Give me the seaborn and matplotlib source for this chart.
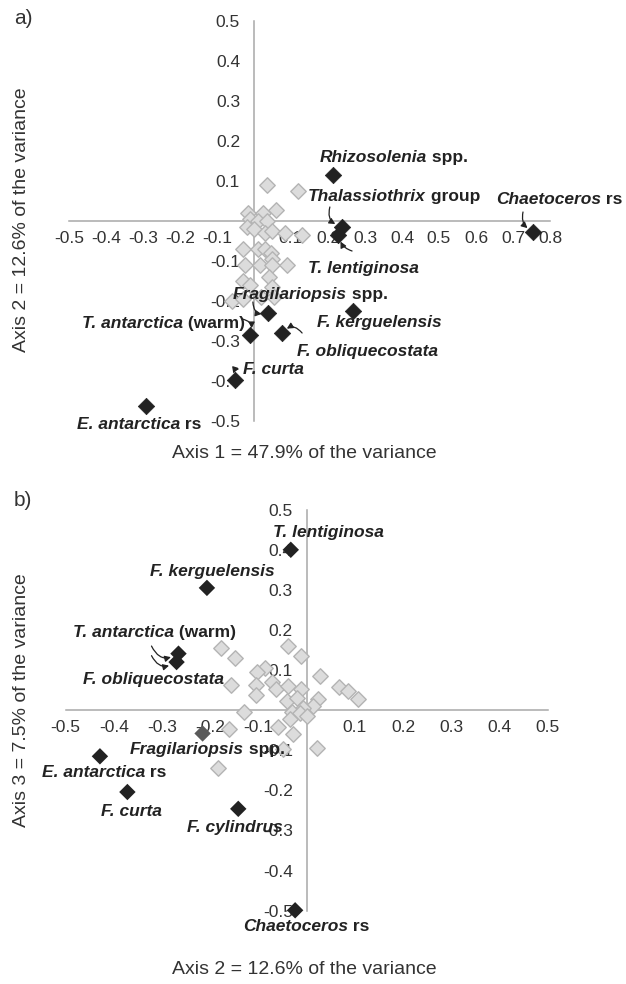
import matplotlib
matplotlib.use("Agg")
import matplotlib.pyplot as plt
import seaborn as sns
import pandas as pd
from matplotlib import font_manager as fm

sns.set_style("white")
avail = {f.name for f in fm.fontManager.ttflist}
FONT = "Liberation Sans Narrow" if "Liberation Sans Narrow" in avail else "Liberation Sans"
plt.rcParams["font.family"] = [FONT, "DejaVu Sans"]
plt.rcParams["axes.unicode_minus"] = False

# ---------------- data: panel a (Axis 1 vs Axis 2) ----------------
a_names = ["Rhizosolenia spp.", "Thalassiothrix group", "T. lentiginosa", "Chaetoceros rs",
           "Fragilariopsis spp.", "F. kerguelensis", "T. antarctica (warm)",
           "F. obliquecostata", "F. curta", "E. antarctica rs"]
a_x = [0.214, 0.237, 0.228, 0.755, 0.039, 0.268, -0.011, 0.075, -0.051, -0.292]
a_y = [0.115, -0.014, -0.035, -0.027, -0.231, -0.225, -0.285, -0.281, -0.398, -0.462]

a_gray_x = [0.035, 0.12, -0.015, 0.025, 0.06, -0.01, 0.01, 0.035, -0.02, 0.0, 0.03, 0.05,
            0.085, 0.13, -0.03, 0.01, 0.03, 0.045, 0.05, -0.025, 0.015, 0.05, 0.09,
            -0.03, 0.04, -0.01, 0.05, -0.06, -0.03, 0.02, 0.055]
a_gray_y = [0.09, 0.075, 0.02, 0.02, 0.028, 0.005, 0.0, 0.0, -0.015, -0.02, -0.03, -0.025,
            -0.03, -0.035, -0.07, -0.07, -0.07, -0.08, -0.095, -0.11, -0.11, -0.11, -0.11,
            -0.15, -0.14, -0.16, -0.165, -0.2, -0.195, -0.19, -0.19]

# ---------------- data: panel b (Axis 2 vs Axis 3) ----------------
b_names = ["T. lentiginosa", "F. kerguelensis", "T. antarctica (warm)", "F. obliquecostata",
           "Fragilariopsis spp.", "E. antarctica rs", "F. curta", "F. cylindrus",
           "Chaetoceros rs"]
b_x = [-0.033, -0.207, -0.266, -0.27, -0.216, -0.429, -0.372, -0.142, -0.024]
b_y = [0.40, 0.305, 0.141, 0.12, -0.058, -0.115, -0.204, -0.246, -0.499]
b_colors = ["#222222", "#222222", "#222222", "#222222", "#5a5a5a",
            "#222222", "#222222", "#222222", "#222222"]

b_gray_x = [-0.178, -0.149, -0.038, -0.012, -0.087, -0.104, -0.157, -0.105, -0.071, -0.064,
            -0.038, -0.105, -0.041, -0.012, -0.021, 0.028, 0.068, 0.086, 0.107, 0.023,
            0.014, -0.007, -0.131, -0.031, -0.014, 0.0, -0.035, -0.059, -0.028, -0.161,
            0.021, -0.049, -0.185]
b_gray_y = [0.156, 0.131, 0.16, 0.136, 0.104, 0.095, 0.062, 0.064, 0.07, 0.052, 0.06,
            0.039, 0.022, 0.052, 0.031, 0.085, 0.057, 0.047, 0.027, 0.027, 0.01, 0.006,
            -0.004, -0.004, -0.007, -0.015, -0.023, -0.042, -0.059, -0.048, -0.095,
            -0.096, -0.145]

# label text parts: (text, italic)
label_parts = {
    "Rhizosolenia spp.": [("Rhizosolenia", True), (" spp.", False)],
    "Thalassiothrix group": [("Thalassiothrix", True), (" group", False)],
    "T. lentiginosa": [("T. lentiginosa", True)],
    "Chaetoceros rs": [("Chaetoceros", True), (" rs", False)],
    "Fragilariopsis spp.": [("Fragilariopsis", True), (" spp.", False)],
    "F. kerguelensis": [("F. kerguelensis", True)],
    "T. antarctica (warm)": [("T. antarctica", True), (" (warm)", False)],
    "F. obliquecostata": [("F. obliquecostata", True)],
    "F. curta": [("F. curta", True)],
    "E. antarctica rs": [("E. antarctica", True), (" rs", False)],
    "F. cylindrus": [("F. cylindrus", True)],
}

# label anchor (left, vertical centre) in data coordinates
a_label_pos = {
    "Rhizosolenia spp.": (0.178, 0.158),
    "Thalassiothrix group": (0.146, 0.061),
    "T. lentiginosa": (0.146, -0.118),
    "Chaetoceros rs": (0.654, 0.0525),
    "Fragilariopsis spp.": (-0.057, -0.185),
    "F. kerguelensis": (0.170, -0.255),
    "T. antarctica (warm)": (-0.465, -0.256),
    "F. obliquecostata": (0.116, -0.327),
    "F. curta": (-0.03, -0.3725),
    "E. antarctica rs": (-0.478, -0.508),
}
b_label_pos = {
    "T. lentiginosa": (-0.07, 0.442),
    "F. kerguelensis": (-0.325, 0.345),
    "T. antarctica (warm)": (-0.485, 0.194),
    "F. obliquecostata": (-0.465, 0.0766),
    "Fragilariopsis spp.": (-0.367, -0.098),
    "E. antarctica rs": (-0.55, -0.156),
    "F. curta": (-0.427, -0.252),
    "F. cylindrus": (-0.248, -0.293),
    "Chaetoceros rs": (-0.1315, -0.539),
}
# arrow tails (data coords) with curvature
a_arrows = {
    "Thalassiothrix group": ((0.205, 0.035), 0.5),
    "T. lentiginosa": ((0.265, -0.075), -0.3),
    "Chaetoceros rs": ((0.727, 0.0225), 0.4),
    "Fragilariopsis spp.": ((-0.003, -0.2025), 0.6),
    "T. antarctica (warm)": ((-0.032, -0.245), -0.6),
    "F. obliquecostata": ((0.13, -0.28), 0.6),
    "F. curta": ((-0.043, -0.37), 0.6),
}
b_arrows = {
    "T. antarctica (warm)": ((-0.322, 0.160), 0.55),
    "F. obliquecostata": ((-0.322, 0.136), 0.55),
}

LABEL_FS = 12.5
TICK_FS = 12.5
AXLAB_FS = 14
DARK = "#222222"
AXCOL = "#a8a8a8"


def draw_label(ax, pos, parts):
    x, y = pos
    prev = ax.text(x, y, parts[0][0], ha="left", va="center", fontsize=LABEL_FS,
                   fontweight="bold", fontstyle="italic" if parts[0][1] else "normal",
                   color=DARK, zorder=6)
    for txt, it in parts[1:]:
        prev = ax.annotate(txt, xy=(1, 0), xycoords=prev, ha="left", va="bottom",
                           fontsize=LABEL_FS, fontweight="bold",
                           fontstyle="italic" if it else "normal", color=DARK, zorder=6)


def style_axes(ax, xticks, yticks):
    for s in ["top", "right"]:
        ax.spines[s].set_visible(False)
    ax.spines["left"].set_position(("data", 0))
    ax.spines["bottom"].set_position(("data", 0))
    for s in ["left", "bottom"]:
        ax.spines[s].set_color(AXCOL)
        ax.spines[s].set_linewidth(1.1)
        ax.spines[s].set_zorder(1)
    ax.set_xticks(xticks)
    ax.set_xticklabels([f"{v:.1f}" for v in xticks])
    ax.set_yticks(yticks)
    ax.set_yticklabels([f"{v:.1f}" for v in yticks])
    ax.tick_params(axis="x", direction="in", length=6, width=1.1, color=AXCOL,
                   pad=7, labelsize=TICK_FS, labelcolor="#333333")
    ax.tick_params(axis="y", direction="inout", length=13, width=1.1, color=AXCOL,
                   pad=3.5, labelsize=TICK_FS, labelcolor="#333333")
    for lab in ax.get_xticklabels() + ax.get_yticklabels():
        lab.set_zorder(7)
    ax.set_xlabel("")
    ax.set_ylabel("")
    ax.patch.set_alpha(0)


def arrow(ax, head, tail, rad, shrink):
    ax.annotate("", xy=head, xytext=tail,
                arrowprops=dict(arrowstyle="-|>,head_length=0.35,head_width=0.18",
                                color=DARK, lw=0.9, shrinkA=0, shrinkB=shrink,
                                connectionstyle=f"arc3,rad={rad}"), zorder=6)


fig = plt.figure(figsize=(6.26, 9.84), dpi=100)
W, H = 626.0, 984.0

# ---------- panel a ----------
axa = fig.add_axes([69 / W, 1 - 421 / H, 481 / W, 400 / H])
dfa_g = pd.DataFrame({"x": a_gray_x, "y": a_gray_y})
dfa = pd.DataFrame({"x": a_x, "y": a_y, "name": a_names})
sns.scatterplot(data=dfa_g, x="x", y="y", marker="D", s=62, color="#dcdcdc",
                edgecolor="#b4b4b4", linewidth=1.0, ax=axa, zorder=3, clip_on=False)
sns.scatterplot(data=dfa, x="x", y="y", marker="D", s=70, color=DARK,
                edgecolor=DARK, linewidth=0.5, ax=axa, zorder=5, clip_on=False)
axa.set_xlim(-0.5, 0.8)
axa.set_ylim(-0.5, 0.5)
style_axes(axa, [-0.5, -0.4, -0.3, -0.2, -0.1, 0.1, 0.2, 0.3, 0.4, 0.5, 0.6, 0.7, 0.8],
           [-0.5, -0.4, -0.3, -0.2, -0.1, 0.1, 0.2, 0.3, 0.4, 0.5])
for n in a_names:
    draw_label(axa, a_label_pos[n], label_parts[n])
for n, (tail, rad) in a_arrows.items():
    i = a_names.index(n)
    arrow(axa, (a_x[i], a_y[i]), tail, rad, 5)

# ---------- panel b ----------
axb = fig.add_axes([65.7 / W, 1 - 910.7 / H, 482 / W, 401 / H])
dfb_g = pd.DataFrame({"x": b_gray_x, "y": b_gray_y})
dfb = pd.DataFrame({"x": b_x, "y": b_y, "name": b_names, "c": b_colors})
sns.scatterplot(data=dfb_g, x="x", y="y", marker="D", s=62, color="#dcdcdc",
                edgecolor="#b4b4b4", linewidth=1.0, ax=axb, zorder=3, clip_on=False)
sns.scatterplot(data=dfb, x="x", y="y", marker="D", s=70, hue="name",
                palette=dict(zip(b_names, b_colors)), edgecolor=None, linewidth=0,
                ax=axb, zorder=5, clip_on=False, legend=False)
axb.set_xlim(-0.5, 0.5)
axb.set_ylim(-0.5, 0.5)
ticks_b = [-0.5, -0.4, -0.3, -0.2, -0.1, 0.1, 0.2, 0.3, 0.4, 0.5]
style_axes(axb, ticks_b, ticks_b)
for n in b_names:
    draw_label(axb, b_label_pos[n], label_parts[n])
for n, (tail, rad) in b_arrows.items():
    i = b_names.index(n)
    arrow(axb, (b_x[i], b_y[i]), tail, rad, 6)

# ---------- axis titles & panel letters ----------
fig.text(304 / W, 1 - 453 / H, "Axis 1 = 47.9% of the variance", ha="center", va="center",
         fontsize=AXLAB_FS, color="#333333")
fig.text(22 / W, 1 - 220 / H, "Axis 2 = 12.6% of the variance", ha="center", va="center",
         rotation=90, fontsize=AXLAB_FS, color="#333333")
fig.text(304 / W, 1 - 970 / H, "Axis 2 = 12.6% of the variance", ha="center", va="center",
         fontsize=AXLAB_FS, color="#333333")
fig.text(22 / W, 1 - 700 / H, "Axis 3 = 7.5% of the variance", ha="center", va="center",
         rotation=90, fontsize=AXLAB_FS, color="#333333")
fig.text(14 / W, 1 - 18 / H, "a)", ha="left", va="center", fontsize=15, color="#333333")
fig.text(14 / W, 1 - 500 / H, "b)", ha="left", va="center", fontsize=15, color="#333333")

fig.savefig("out.png", dpi=100)
